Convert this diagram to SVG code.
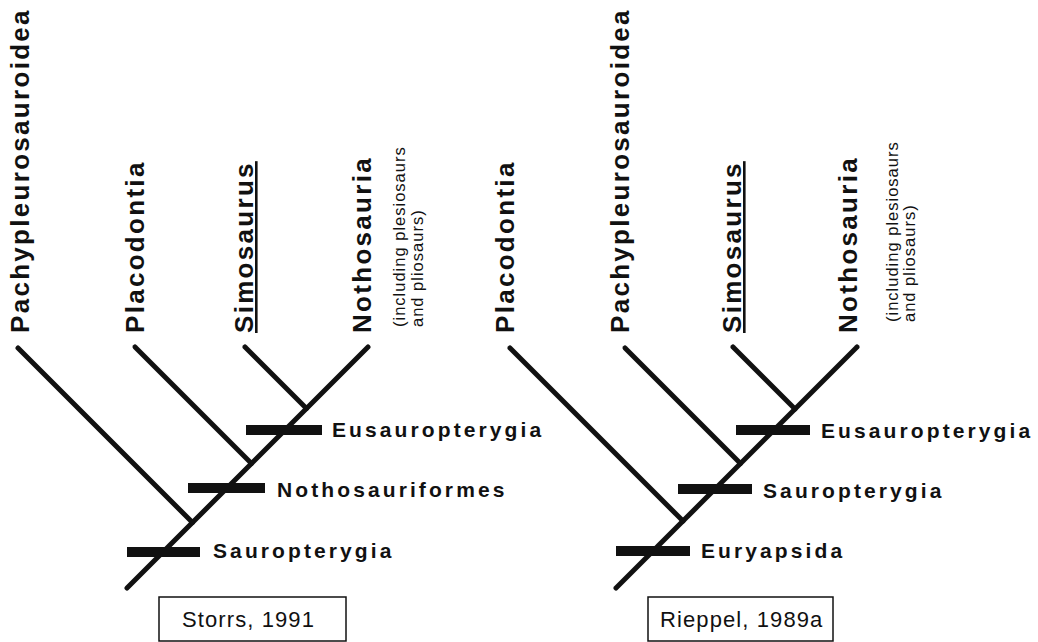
<svg xmlns="http://www.w3.org/2000/svg" width="1038" height="642" viewBox="0 0 1038 642">
<style>
.taxon{font-family:"Liberation Sans",Arial,Helvetica,sans-serif;font-weight:bold;font-size:26px;letter-spacing:2.3px;fill:#111}
.note{font-family:"Liberation Sans",Arial,Helvetica,sans-serif;font-size:16.5px;letter-spacing:1px;fill:#111}
.clade{font-family:"Liberation Sans",Arial,Helvetica,sans-serif;font-weight:bold;font-size:21px;letter-spacing:3.1px;fill:#111}
.src{font-family:"Liberation Sans",Arial,Helvetica,sans-serif;font-size:22px;letter-spacing:1.1px;fill:#111}
.branch{stroke:#111;stroke-width:5;stroke-linecap:round;fill:none}
.bar{stroke:#111;stroke-width:10;stroke-linecap:butt;fill:none}
.box{fill:#fff;stroke:#111;stroke-width:1.5}
</style>
<rect width="1038" height="642" fill="#fff"/>

<!-- LEFT TREE (Storrs, 1991) -->
<g id="connectors-left">
<line class="branch" x1="368" y1="347" x2="127" y2="588"/>
<line class="branch" x1="18" y1="348" x2="192.5" y2="522.5"/>
<line class="branch" x1="135" y1="347" x2="251.5" y2="463.5"/>
<line class="branch" x1="245" y1="347" x2="306.5" y2="408.5"/>
</g>
<g id="L-Pachypleurosauroidea"><text class="taxon" transform="translate(29,333) rotate(-90)">Pachypleurosauroidea</text></g>
<g id="L-Placodontia"><text class="taxon" transform="translate(144,333) rotate(-90)">Placodontia</text></g>
<g id="L-Simosaurus"><text class="taxon" text-decoration="underline" transform="translate(253,333) rotate(-90)">Simosaurus</text></g>
<g id="L-Nothosauria"><text class="taxon" transform="translate(371,333) rotate(-90)">Nothosauria</text>
<text class="note" transform="translate(405,327) rotate(-90)">(including plesiosaurs</text>
<text class="note" transform="translate(423,327) rotate(-90)">and pliosaurs)</text></g>
<g id="L-Eusauropterygia"><line class="bar" x1="246" y1="430" x2="322" y2="430"/><text class="clade" x="332" y="437">Eusauropterygia</text></g>
<g id="L-Nothosauriformes"><line class="bar" x1="188" y1="488" x2="265" y2="488"/><text class="clade" x="277" y="497">Nothosauriformes</text></g>
<g id="L-Sauropterygia"><line class="bar" x1="127" y1="552" x2="200" y2="552"/><text class="clade" x="213" y="558">Sauropterygia</text></g>
<g id="L-source"><rect class="box" x="159" y="597" width="187" height="44"/><text class="src" x="182" y="627">Storrs, 1991</text></g>

<!-- RIGHT TREE (Rieppel, 1989a) -->
<g id="connectors-right">
<line class="branch" x1="857" y1="347" x2="616" y2="588"/>
<line class="branch" x1="510" y1="348" x2="683" y2="521"/>
<line class="branch" x1="625" y1="348" x2="740.5" y2="463.5"/>
<line class="branch" x1="733" y1="347" x2="795" y2="409"/>
</g>
<g id="R-Placodontia"><text class="taxon" transform="translate(514,333) rotate(-90)">Placodontia</text></g>
<g id="R-Pachypleurosauroidea"><text class="taxon" transform="translate(629,333) rotate(-90)">Pachypleurosauroidea</text></g>
<g id="R-Simosaurus"><text class="taxon" text-decoration="underline" transform="translate(741,333) rotate(-90)">Simosaurus</text></g>
<g id="R-Nothosauria"><text class="taxon" transform="translate(857,333) rotate(-90)">Nothosauria</text>
<text class="note" transform="translate(898,322) rotate(-90)">(including plesiosaurs</text>
<text class="note" transform="translate(915,322) rotate(-90)">and pliosaurs)</text></g>
<g id="R-Eusauropterygia"><line class="bar" x1="736" y1="430" x2="810" y2="430"/><text class="clade" x="821" y="438">Eusauropterygia</text></g>
<g id="R-Sauropterygia"><line class="bar" x1="678" y1="489" x2="752" y2="489"/><text class="clade" x="763" y="498">Sauropterygia</text></g>
<g id="R-Euryapsida"><line class="bar" x1="616" y1="551" x2="690" y2="551"/><text class="clade" x="701" y="558">Euryapsida</text></g>
<g id="R-source"><rect class="box" x="648" y="597" width="185" height="44"/><text class="src" x="660" y="627">Rieppel, 1989a</text></g>
</svg>
